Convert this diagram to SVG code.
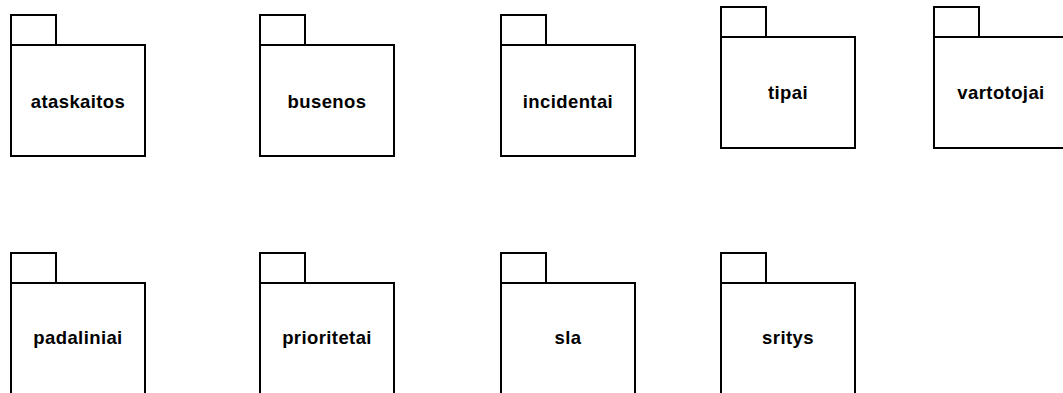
<svg xmlns="http://www.w3.org/2000/svg" width="1063" height="393" viewBox="0 0 1063 393">
<style>
.pk{fill:#fff;stroke:#000;stroke-width:2}
.lb{font-family:"Liberation Sans",Arial,sans-serif;font-size:18.5px;font-weight:bold;letter-spacing:0.4px;text-anchor:middle;fill:#000}
</style>
<defs>
<g id="pkg">
<rect class="pk" x="0" y="0" width="45" height="30"/>
<rect class="pk" x="0" y="30" width="134" height="111"/>
</g>
</defs>
<rect width="1063" height="393" fill="#fff"/>
<g id="ataskaitos" transform="translate(11,15)"><use href="#pkg"/><text class="lb" x="67" y="93">ataskaitos</text></g>
<g id="busenos" transform="translate(260,15)"><use href="#pkg"/><text class="lb" x="67" y="93">busenos</text></g>
<g id="incidentai" transform="translate(501,15)"><use href="#pkg"/><text class="lb" x="67" y="93">incidentai</text></g>
<g id="tipai" transform="translate(721,7)"><use href="#pkg"/><text class="lb" x="67" y="92">tipai</text></g>
<g id="vartotojai" transform="translate(934,7)"><use href="#pkg"/><text class="lb" x="67" y="92">vartotojai</text></g>
<g id="padaliniai" transform="translate(11,253)"><use href="#pkg"/><text class="lb" x="67" y="91">padaliniai</text></g>
<g id="prioritetai" transform="translate(260,253)"><use href="#pkg"/><text class="lb" x="67" y="91">prioritetai</text></g>
<g id="sla" transform="translate(501,253)"><use href="#pkg"/><text class="lb" x="67" y="91">sla</text></g>
<g id="sritys" transform="translate(721,253)"><use href="#pkg"/><text class="lb" x="67" y="91">sritys</text></g>
<g id="connectors"/>
</svg>
